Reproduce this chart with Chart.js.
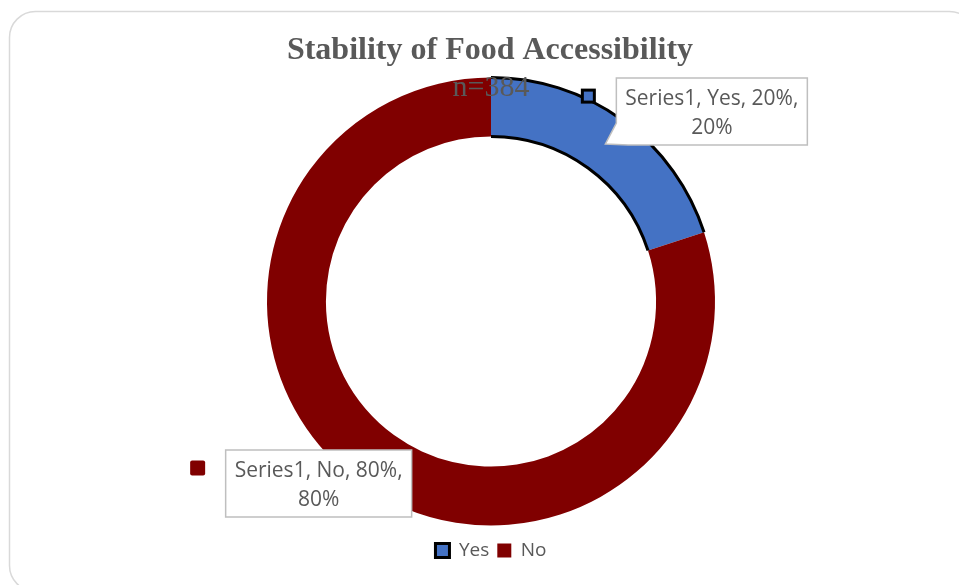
<!DOCTYPE html>
<html>
<head>
<meta charset="utf-8">
<script src="https://cdn.jsdelivr.net/npm/chart.js@4"></script>
<style>
  html, body { margin: 0; padding: 0; background: #fff; }
  #wrap { width: 959px; height: 585px; position: relative; }
</style>
</head>
<body>
<div id="wrap"><canvas id="accessChart" width="959" height="585"></canvas></div>
<script>
// Data
const seriesName = 'Series1';
const categories = ['Yes', 'No'];
const values = [20, 80];
const sliceColors = ['#4472C4', '#800000'];
const chartTitle = 'Stability of Food Accessibility';
const chartSubtitle = 'n=384';

const textGray = '#595959';
const labelFont = '21px "Open Sans"';
// where each callout box sits relative to its slice anchor
const labelOffsets = [[11, -66], [-151, -9]];

// rounded frame behind everything
const framePlugin = {
    id: 'frame',
    beforeDraw(chart) {
        const ctx = chart.ctx;
        ctx.save();
        ctx.strokeStyle = '#D9D9D9';
        ctx.lineWidth = 1.5;
        ctx.beginPath();
        ctx.roundRect(9.5, 11.5, 966, 580, 26);
        ctx.stroke();
        ctx.restore();
    }
};

// black outline on the outer/inner arcs of the "Yes" slice only
const outlinePlugin = {
    id: 'outline',
    afterDatasetsDraw(chart) {
        const arc = chart.getDatasetMeta(0).data[0];
        const p = arc.getProps(['x', 'y', 'startAngle', 'endAngle', 'innerRadius', 'outerRadius']);
        const ctx = chart.ctx;
        ctx.save();
        ctx.strokeStyle = '#000';
        ctx.lineWidth = 3;
        ctx.beginPath();
        ctx.arc(p.x, p.y, p.outerRadius, p.startAngle, p.endAngle);
        ctx.stroke();
        ctx.beginPath();
        ctx.arc(p.x, p.y, p.innerRadius, p.startAngle, p.endAngle);
        ctx.stroke();
        ctx.restore();
    }
};

// title and subtitle drawn over the ring, like the original
const titlePlugin = {
    id: 'overTitle',
    afterDatasetsDraw(chart) {
        const ctx = chart.ctx;
        ctx.save();
        ctx.fillStyle = textGray;
        ctx.textAlign = 'center';
        ctx.textBaseline = 'middle';
        ctx.font = 'bold 32px "Liberation Serif"';
        ctx.fillText(chartTitle, 490, 51);
        ctx.font = '30px "Liberation Serif"';
        ctx.fillText(chartSubtitle, 491, 88);
        ctx.restore();
    }
};

// callout data labels
const calloutPlugin = {
    id: 'callouts',
    afterDatasetsDraw(chart) {
        const ctx = chart.ctx;
        const meta = chart.getDatasetMeta(0);
        const total = values.reduce((a, b) => a + b, 0);
        meta.data.forEach((arc, i) => {
            const p = arc.getProps(['x', 'y', 'startAngle', 'endAngle', 'innerRadius', 'outerRadius']);
            const mid = (p.startAngle + p.endAngle) / 2;
            const r = (p.innerRadius + p.outerRadius) / 2;
            const ax = p.x + Math.cos(mid) * r;
            const ay = p.y + Math.sin(mid) * r;
            const pct = Math.round(values[i] / total * 100) + '%';
            const line1 = seriesName + ', ' + categories[i] + ', ' + pct + ',';
            const line2 = pct;

            ctx.save();
            ctx.font = labelFont;
            const w = Math.round(ctx.measureText(line1).width) + 18;
            const h = 67;
            const left = ax + labelOffsets[i][0];
            const top = ay + labelOffsets[i][1];

            // box (with pointer when the anchor is outside it)
            const inside = ax >= left && ax <= left + w && ay >= top && ay <= top + h;
            ctx.beginPath();
            ctx.moveTo(left, top);
            ctx.lineTo(left + w, top);
            ctx.lineTo(left + w, top + h);
            if (!inside) {
                ctx.lineTo(left + 12, top + h);
                ctx.lineTo(ax, ay);
                ctx.lineTo(left, top + h - 22);
            } else {
                ctx.lineTo(left, top + h);
            }
            ctx.closePath();
            ctx.fillStyle = '#fff';
            ctx.fill();
            ctx.strokeStyle = '#BFBFBF';
            ctx.lineWidth = 1.5;
            ctx.stroke();

            // legend key
            const kx = left - 28, ky = top + 18;
            ctx.fillStyle = sliceColors[i];
            if (i === 0) {
                ctx.fillRect(kx - 6, ky - 6, 12, 12);
                ctx.strokeStyle = '#000';
                ctx.lineWidth = 3;
                ctx.strokeRect(kx - 6, ky - 6, 12, 12);
            } else {
                ctx.beginPath();
                ctx.roundRect(kx - 7.5, ky - 7.5, 15, 15, 2);
                ctx.fill();
            }

            ctx.fillStyle = textGray;
            ctx.textAlign = 'center';
            ctx.textBaseline = 'middle';
            ctx.fillText(line1, left + w / 2, top + 21);
            ctx.fillText(line2, left + w / 2, top + 50);
            ctx.restore();
        });
    }
};

new Chart(document.getElementById('accessChart'), {
    type: 'doughnut',
    data: {
        labels: categories,
        datasets: [{
            label: seriesName,
            data: values,
            backgroundColor: sliceColors,
            borderWidth: 0
        }]
    },
    options: {
        responsive: false,
        animation: false,
        radius: 224,
        cutout: '73.7%',
        layout: { padding: { left: 23, right: 0, top: 70, bottom: 15 } },
        plugins: {
            tooltip: { enabled: false },
            title: { display: false },
            legend: {
                position: 'bottom',
                labels: {
                    color: textGray,
                    font: { family: 'Open Sans', size: 19 },
                    boxWidth: 14,
                    boxHeight: 14,
                    padding: 8,
                    generateLabels(chart) {
                        const items = Chart.overrides.doughnut.plugins.legend.labels.generateLabels(chart);
                        items[0].strokeStyle = '#000';
                        items[0].lineWidth = 3;
                        return items;
                    }
                }
            }
        }
    },
    plugins: [framePlugin, outlinePlugin, titlePlugin, calloutPlugin]
});
</script>
</body>
</html>
